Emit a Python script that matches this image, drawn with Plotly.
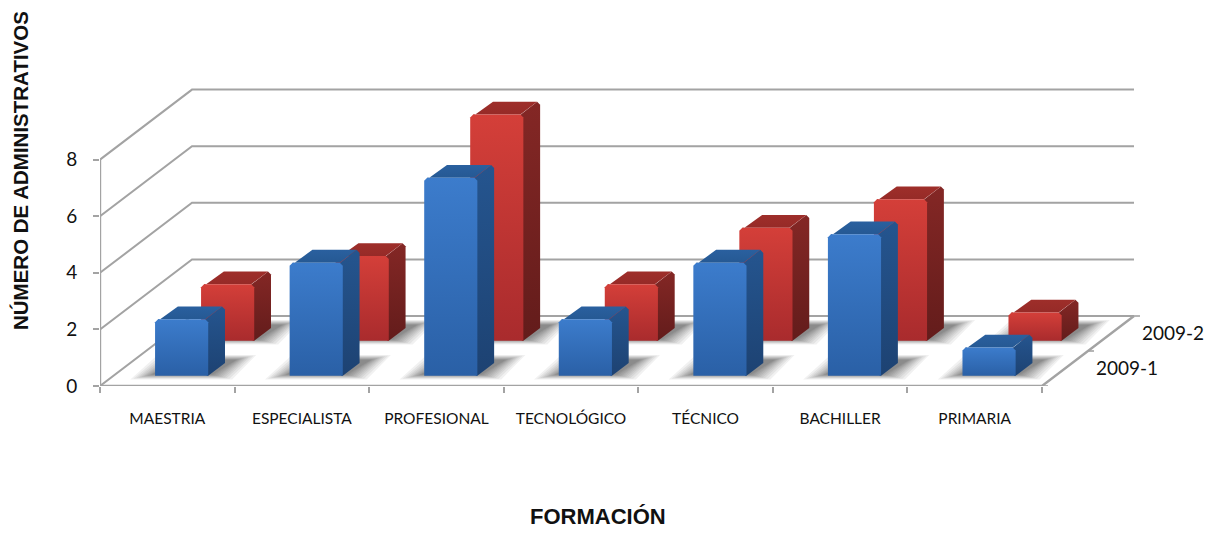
import plotly.graph_objects as go

categories = ["MAESTRIA", "ESPECIALISTA", "PROFESIONAL", "TECNOLÓGICO", "TÉCNICO", "BACHILLER", "PRIMARIA"]
series_names = ["2009-1", "2009-2"]
values_2009_1 = [2, 4, 7, 2, 4, 5, 1]
values_2009_2 = [2, 3, 8, 2, 4, 5, 1]
y_ticks = [0, 2, 4, 6, 8]

W, H = 1212, 556
LEFT, BASE = 100, 386
PX_CAT, PX_VAL = 134.57, 28.3
ROW_DX, ROW_DY = 46.0 / PX_CAT, 35.0 / PX_VAL
NROW = 2
NCAT = len(categories)
BAR_START, BAR_W = 0.31, 0.395
DEPTH_START, DEPTH_W = 0.29, 0.365
LINE = "#A3A3A3"
TEXT = "#111111"


def proj(x, v, z):
    return x + z * ROW_DX, v + z * ROW_DY


def poly(pts):
    xs, ys = zip(*pts)
    return list(xs) + [xs[0]], list(ys) + [ys[0]]


fig = go.Figure()


def add_line(pts, color=LINE, width=2):
    xs, ys = zip(*pts)
    fig.add_trace(go.Scatter(x=xs, y=ys, mode="lines", line=dict(color=color, width=width),
                             hoverinfo="skip", showlegend=False))


def add_face(pts, top, bottom):
    xs, ys = poly(pts)
    fig.add_trace(go.Scatter(
        x=xs, y=ys, mode="lines", line=dict(width=0), fill="toself", hoverinfo="skip", showlegend=False,
        fillcolor=top,
        fillgradient=dict(type="vertical", colorscale=[[0, bottom], [1, top]], start=min(ys), stop=max(ys)),
    ))


# walls and floor
for v in y_ticks:
    add_line([proj(0, v, 0), proj(0, v, NROW), proj(NCAT, v, NROW)])
add_line([(0, 0), (0, 8)], width=2.4)
add_line([(0, 0), (NCAT, 0), proj(NCAT, 0, NROW)], width=2.4)

# depth axis ticks and labels
for r in range(NROW + 1):
    px, py = proj(NCAT, 0, r)
    add_line([(px, py), (px + 6 / PX_CAT, py)], width=1.6)
lab = [proj(NCAT, 0, r + 0.5) for r in range(NROW)]
fig.add_trace(go.Scatter(
    x=[p[0] + 31 / PX_CAT for p in lab], y=[p[1] - 2 / PX_VAL for p in lab], mode="text", text=series_names,
    textposition="middle right", textfont=dict(family="Lato, Carlito, sans-serif", size=19, color=TEXT),
    hoverinfo="skip", showlegend=False, cliponaxis=False))

rows = [(0, values_2009_1, ("#3C7CCC", "#2A60A6"), ("#2A609F", "#255892"), ("#25558F", "#1D4272")),
        (1, values_2009_2, ("#D43F39", "#A92B2D"), ("#9E2E2A", "#952A27"), ("#842725", "#631C1B"))]

# soft floor shadows, built up from translucent layers
for grow in [24, 21, 18, 15.5, 13, 11, 9, 7, 5, 3.5, 2]:
    xs, ys = [], []
    ex, ey = grow / PX_CAT, grow * 0.22 / PX_VAL
    for row, vals, *_ in rows:
        for i in range(len(vals)):
            x0, x1 = i + BAR_START, i + BAR_START + BAR_W
            z0, z1 = row + DEPTH_START + 0.05, row + DEPTH_START + DEPTH_W + 0.08
            a = proj(x0 - ex - 3 / PX_CAT, -ey, z0)
            b = proj(x1 + ex * 0.9, -ey, z0)
            c = proj(x1 + ex * 0.9 + 6 / PX_CAT, ey, z1)
            d = proj(x0 - ex + 6 / PX_CAT, ey, z1)
            px, py = poly([a, b, c, d])
            xs += px + [None]
            ys += py + [None]
    fig.add_trace(go.Scatter(x=xs, y=ys, mode="lines", line=dict(width=0), fill="toself",
                             fillcolor="rgba(40,40,40,0.065)", hoverinfo="skip", showlegend=False))

# bars, far row first
BX, BV = 3 / PX_CAT, 3 / PX_VAL
LAP_X, LAP_V = 1.5 / PX_CAT, 1.5 / PX_VAL
for row, vals, front, topc, side in reversed(rows):
    for i, v in enumerate(vals):
        x0, x1 = i + BAR_START, i + BAR_START + BAR_W
        z0, z1 = row + DEPTH_START, row + DEPTH_START + DEPTH_W
        # side and top run slightly under the front face so no seam shows
        add_face([(proj(x1, 0, z0)[0] - LAP_X, proj(x1, 0, z0)[1]), proj(x1, 0, z0), proj(x1, 0, z1),
                  proj(x1, v - BV, z1), proj(x1 - BX, v, z1), proj(x1 - BX, v, z0),
                  (proj(x1, v, z0)[0] - LAP_X - BX, proj(x1, v, z0)[1] - LAP_V)], side[0], side[1])
        add_face([(proj(x0 + BX, v, z0)[0], proj(x0 + BX, v, z0)[1] - LAP_V), proj(x0 + BX, v, z0),
                  proj(x1 - BX, v, z0), proj(x1 - BX, v, z1), proj(x0 + BX * 2, v, z1)],
                 topc[0], topc[1])
        add_face([proj(x0, 0, z0), proj(x1, 0, z0), proj(x1, v - BV, z0), proj(x1 - BX, v, z0),
                  proj(x0 + BX, v, z0), proj(x0, v - BV, z0)], front[0], front[1])

fig.update_layout(
    width=W, height=H, showlegend=False, plot_bgcolor="white", paper_bgcolor="white",
    margin=dict(l=LEFT, r=0, t=0, b=H - BASE),
    xaxis=dict(range=[0, (W - LEFT) / PX_CAT], showgrid=False, zeroline=False, showline=False,
               tickmode="array", tickvals=[i + 0.5 for i in range(NCAT)], ticktext=categories,
               ticks="outside", ticklen=18, tickcolor="rgba(0,0,0,0)",
               tickfont=dict(family="Lato, Carlito, sans-serif", size=15.5, color=TEXT),
               minor=dict(tickmode="array", tickvals=list(range(NCAT + 1)), ticks="outside", ticklen=6,
                          tickwidth=1.8, tickcolor=LINE, showgrid=False)),
    yaxis=dict(range=[0, BASE / PX_VAL], showgrid=False, zeroline=False, showline=False,
               tickmode="array", tickvals=y_ticks, ticks="outside", ticklen=6, tickwidth=1.8, tickcolor=LINE,
               ticklabelstandoff=12,
               tickfont=dict(family="Lato, Carlito, sans-serif", size=19, color=TEXT)),
    annotations=[
        dict(text="<b>NÚMERO DE ADMINISTRATIVOS</b>", xref="paper", yref="paper", x=(20 - LEFT) / (W - LEFT),
             y=(BASE - 171) / BASE, textangle=-90, showarrow=False, xanchor="center", yanchor="middle",
             font=dict(family="Liberation Sans, Arial, sans-serif", size=20.5, color=TEXT)),
        dict(text="<b>FORMACIÓN</b>", xref="paper", yref="paper", x=(598 - LEFT) / (W - LEFT),
             y=(BASE - 516) / BASE, showarrow=False, xanchor="center", yanchor="middle",
             font=dict(family="Liberation Sans, Arial, sans-serif", size=22, color=TEXT)),
    ],
)

fig.write_html("out.html", config={"displayModeBar": False},
               post_script="document.body.style.margin='0';document.body.style.overflow='hidden';")
